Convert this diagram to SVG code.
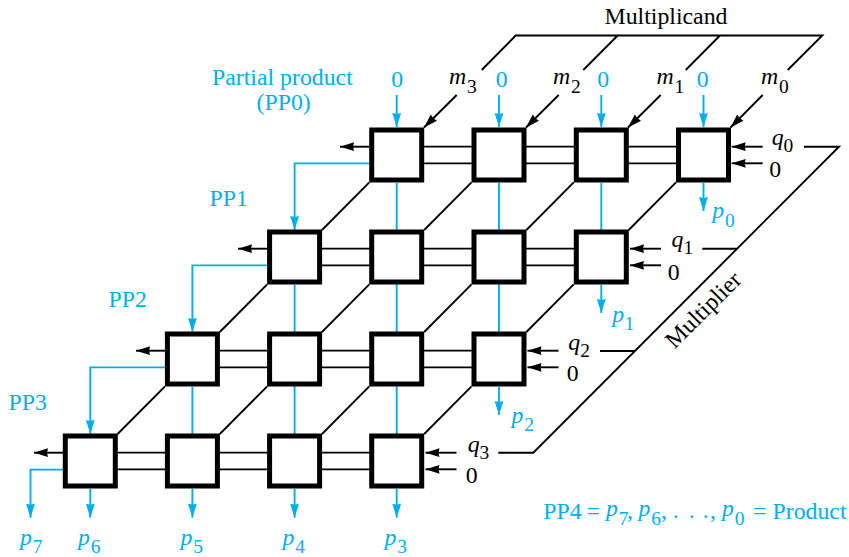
<svg xmlns="http://www.w3.org/2000/svg" width="849" height="557" viewBox="0 0 849 557">
<style>
text{font-family:"Liberation Serif","Times New Roman",serif;font-size:23.8px;fill:#000}
.b{fill:#00aeef}
.i{font-style:italic}
.s{font-size:19.5px}
.n{fill:#fff;stroke:#000;stroke-width:5}
.k,.c{fill:none;stroke-width:1.9}
.k{stroke:#000}
.c{stroke:#00aeef}
.ka{marker-end:url(#ah)}
.ca{marker-end:url(#bh)}
</style>
<defs>
<marker id="ah" markerUnits="userSpaceOnUse" markerWidth="16" markerHeight="10" viewBox="0 -5 16 10" refX="14" refY="0" orient="auto"><path d="M0,-4.4 L14,0 L0,4.4 L1,0 Z" fill="#000"/></marker>
<marker id="bh" markerUnits="userSpaceOnUse" markerWidth="16" markerHeight="10" viewBox="0 -5 16 10" refX="14" refY="0" orient="auto"><path d="M0,-4.4 L14,0 L0,4.4 L1,0 Z" fill="#00aeef"/></marker>
</defs>
<g id="connectors">
<path class="k" d="M481.7,70 L515.7,35.5 H822.3 L787.7,70 M583.3,70 L617.7,35.5 M685.7,70 L720,35.5"/>
<path class="k" d="M804,146.7 H839 L533.3,452.7 H498.3 M702.3,248.7 H737.3 M600,351 H635"/>
<path class="k ka" d="M456.7,95 L424,127.5"/><path class="k ka" d="M558.7,95 L526,127.5"/><path class="k ka" d="M660.7,95 L628,127.5"/><path class="k ka" d="M762.7,95 L730.5,127.5"/>
<path class="k" d="M369.3,182.3 L322,230 M471.5,182.3 L424.2,230 M573.7,182.3 L526.4,230 M676,182.3 L628.7,230"/>
<path class="k" d="M267.2,284.3 L219.8,332 M369.3,284.3 L322,332 M471.5,284.3 L424.2,332 M573.7,284.3 L526.4,332"/>
<path class="k" d="M165,386.3 L117.6,434 M267.2,386.3 L219.8,434 M369.3,386.3 L322,434 M471.5,386.3 L424.2,434"/>
<path class="k" d="M396.7,146.6 H703.5 M396.7,163.4 H703.5 M294.6,248.6 H601.3 M294.6,265.4 H601.3 M192.4,350.6 H499 M192.4,367.4 H499 M90.3,452.6 H396.7 M90.3,469.4 H396.7"/>
<path class="k ka" d="M369,146.7 H340"/><path class="k ka" d="M267,248.7 H238"/><path class="k ka" d="M165,350.7 H136"/><path class="k ka" d="M63,452.7 H34"/>
<path class="k ka" d="M762.7,146.7 H731.7"/><path class="k ka" d="M762.7,163.3 H731.7"/>
<path class="k ka" d="M661,248.7 H630"/><path class="k ka" d="M661,265.3 H630"/>
<path class="k ka" d="M558.5,350.7 H527.5"/><path class="k ka" d="M558.5,367.3 H527.5"/>
<path class="k ka" d="M456.5,452.7 H425.5"/><path class="k ka" d="M456.5,469.3 H425.5"/>
<path class="c" d="M396.7,183 V434 M499,183 V332 M601.3,183 V230 M294.6,285 V434 M192.4,387 V434"/>
<path class="c ca" d="M396.7,95 V127"/><path class="c ca" d="M499,95 V127"/><path class="c ca" d="M601.3,95 V127"/><path class="c ca" d="M703.5,95 V127"/>
<path class="c ca" d="M369,163.4 H294.6 V230"/><path class="c ca" d="M267,265.4 H192.4 V332"/><path class="c ca" d="M165,367.4 H90.3 V434"/><path class="c ca" d="M63,469.6 H30.5 V517.7"/>
<path class="c ca" d="M703.5,183 V211"/><path class="c ca" d="M601.3,285 V313"/><path class="c ca" d="M499,387 V415"/>
<path class="c ca" d="M396.7,489 V517.7"/><path class="c ca" d="M294.6,489 V517.7"/><path class="c ca" d="M192.4,489 V517.7"/><path class="c ca" d="M90.3,489 V517.7"/>
</g>
<g id="n00"><rect class="n" x="371.7" y="130" width="50" height="50"/></g>
<g id="n01"><rect class="n" x="474" y="130" width="50" height="50"/></g>
<g id="n02"><rect class="n" x="576.3" y="130" width="50" height="50"/></g>
<g id="n03"><rect class="n" x="678.5" y="130" width="50" height="50"/></g>
<g id="n10"><rect class="n" x="269.6" y="232" width="50" height="50"/></g>
<g id="n11"><rect class="n" x="371.7" y="232" width="50" height="50"/></g>
<g id="n12"><rect class="n" x="474" y="232" width="50" height="50"/></g>
<g id="n13"><rect class="n" x="576.3" y="232" width="50" height="50"/></g>
<g id="n20"><rect class="n" x="167.4" y="334" width="50" height="50"/></g>
<g id="n21"><rect class="n" x="269.6" y="334" width="50" height="50"/></g>
<g id="n22"><rect class="n" x="371.7" y="334" width="50" height="50"/></g>
<g id="n23"><rect class="n" x="474" y="334" width="50" height="50"/></g>
<g id="n30"><rect class="n" x="65.3" y="436" width="50" height="50"/></g>
<g id="n31"><rect class="n" x="167.4" y="436" width="50" height="50"/></g>
<g id="n32"><rect class="n" x="269.6" y="436" width="50" height="50"/></g>
<g id="n33"><rect class="n" x="371.7" y="436" width="50" height="50"/></g>
<g id="labels">
<text x="604.5" y="24">Multiplicand</text>
<text class="b" x="212" y="85">Partial product</text>
<text class="b" x="256.5" y="110">(PP0)</text>
<text class="b" x="209.5" y="205.5">PP1</text>
<text class="b" x="108.5" y="307">PP2</text>
<text class="b" x="8.5" y="409.5">PP3</text>
<text class="b" x="391.3" y="87">0</text><text class="b" x="495.7" y="87">0</text><text class="b" x="597.3" y="87">0</text><text class="b" x="696.7" y="87">0</text>
<text x="449" y="84"><tspan class="i">m</tspan><tspan class="s" dx="0.8" dy="8.7">3</tspan></text>
<text x="553" y="84"><tspan class="i">m</tspan><tspan class="s" dx="0.8" dy="8.7">2</tspan></text>
<text x="656.5" y="84"><tspan class="i">m</tspan><tspan class="s" dx="0.8" dy="8.7">1</tspan></text>
<text x="761" y="84"><tspan class="i">m</tspan><tspan class="s" dx="0.8" dy="8.7">0</tspan></text>
<text x="771.7" y="145"><tspan class="i">q</tspan><tspan class="s" dy="7">0</tspan></text>
<text x="769.3" y="177">0</text>
<text x="671.5" y="247"><tspan class="i">q</tspan><tspan class="s" dy="7">1</tspan></text>
<text x="667.7" y="279.5">0</text>
<text x="568.3" y="350"><tspan class="i">q</tspan><tspan class="s" dy="7">2</tspan></text>
<text x="566.7" y="380.5">0</text>
<text x="467.7" y="452"><tspan class="i">q</tspan><tspan class="s" dy="7">3</tspan></text>
<text x="465.7" y="482.7">0</text>
<text class="b" x="712.2" y="218"><tspan class="i">p</tspan><tspan class="s" dx="0.9" dy="8.5">0</tspan></text>
<text class="b" x="612.2" y="321.5"><tspan class="i">p</tspan><tspan class="s" dx="0.5" dy="8">1</tspan></text>
<text class="b" x="511.5" y="423"><tspan class="i">p</tspan><tspan class="s" dx="0.9" dy="7.7">2</tspan></text>
<text class="b" x="384.5" y="544.5"><tspan class="i">p</tspan><tspan class="s" dx="0.9" dy="8">3</tspan></text>
<text class="b" x="282.5" y="544.5"><tspan class="i">p</tspan><tspan class="s" dx="0.9" dy="8">4</tspan></text>
<text class="b" x="180.5" y="544.5"><tspan class="i">p</tspan><tspan class="s" dx="0.9" dy="8">5</tspan></text>
<text class="b" x="78" y="544.5"><tspan class="i">p</tspan><tspan class="s" dx="0.9" dy="8">6</tspan></text>
<text class="b" x="20" y="544.5"><tspan class="i">p</tspan><tspan class="s" dx="0.9" dy="8">7</tspan></text>
<text x="0" y="0" transform="translate(674.5,349.5) rotate(-45)">Multiplier</text>
<text class="b" x="543.3" y="519">PP4</text>
<text class="b" x="586.5" y="519">=</text>
<text class="b" x="606" y="516"><tspan class="i">p</tspan><tspan class="s" dx="0.9" dy="8.5">7</tspan></text>
<text class="b" x="627" y="518">,</text>
<text class="b" x="638.5" y="516"><tspan class="i">p</tspan><tspan class="s" dx="0.9" dy="8.5">6</tspan></text>
<text class="b" x="661" y="518">,</text>
<text class="b" x="672.7" y="518">.</text>
<text class="b" x="688.7" y="518">.</text>
<text class="b" x="702.7" y="518">.</text>
<text class="b" x="710" y="518">,</text>
<text class="b" x="722" y="516"><tspan class="i">p</tspan><tspan class="s" dx="0.9" dy="8.5">0</tspan></text>
<text class="b" x="753" y="519">=</text>
<text class="b" x="772.5" y="519">Product</text>
</g>
</svg>
